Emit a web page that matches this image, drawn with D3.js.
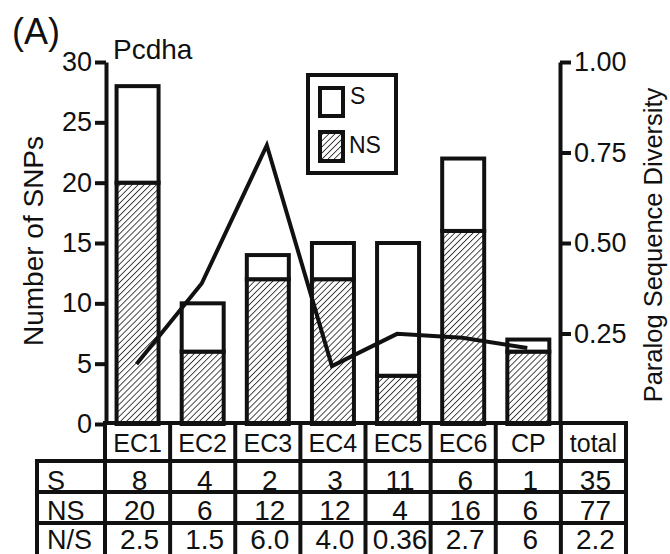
<!DOCTYPE html>
<html><head><meta charset="utf-8">
<script src="https://cdn.jsdelivr.net/npm/d3@7"></script>
<style>
html,body{margin:0;padding:0;background:#fff;}
svg{display:block;font-family:"Liberation Sans",Arial,sans-serif;}
</style></head>
<body>
<svg id="c" width="670" height="554"></svg>
<script>
const categories = ["EC1","EC2","EC3","EC4","EC5","EC6","CP"];
const sValues = [8,4,2,3,11,6,1];
const nsValues = [20,6,12,12,4,16,6];
const ratioLabels = ["2.5","1.5","6.0","4.0","0.36","2.7","6"];
const totalLabel = "total";
const totalS = 35, totalNS = 77, totalRatio = "2.2";
const diversity = [0.166,0.388,0.77,0.16,0.249,0.238,0.21];
const leftTicks = [0,5,10,15,20,25,30];
const rightTicks = [0.25,0.5,0.75,1.0];
const rowLabels = ["S","NS","N/S"];

const svg = d3.select("#c");
const ink = "#111";
const columns = categories.concat([totalLabel]);
const x = d3.scaleBand().domain(columns).range([105,626]).padding(0);
const y = d3.scaleLinear().domain([0,30]).range([424,62]);
const yR = d3.scaleLinear().domain([0,1]).range([424,62]);
const barW = 42;

// hatch pattern
const defs = svg.append("defs");
const pat = defs.append("pattern").attr("id","hatch").attr("patternUnits","userSpaceOnUse")
  .attr("width",4.3).attr("height",4.3).attr("patternTransform","rotate(45)");
pat.append("rect").attr("width",4.3).attr("height",4.3).attr("fill","#fff");
pat.append("line").attr("x1",0).attr("y1",0).attr("x2",0).attr("y2",4.3)
  .attr("stroke","#333").attr("stroke-width",1.8);

// bars
const bars = svg.append("g");
categories.forEach((c,i)=>{
  const cx = x(c) + x.bandwidth()/2;
  bars.append("rect").attr("x",cx-barW/2).attr("y",y(nsValues[i]))
    .attr("width",barW).attr("height",y(0)-y(nsValues[i]))
    .attr("fill","url(#hatch)").attr("stroke",ink).attr("stroke-width",4);
  bars.append("rect").attr("x",cx-barW/2).attr("y",y(nsValues[i]+sValues[i]))
    .attr("width",barW).attr("height",y(nsValues[i])-y(nsValues[i]+sValues[i]))
    .attr("fill","#fff").attr("stroke",ink).attr("stroke-width",4);
});

// line
const line = d3.line().x((d,i)=>x(categories[i])+x.bandwidth()/2 - 1).y(d=>yR(d));
svg.append("path").datum(diversity).attr("d",line).attr("fill","none")
  .attr("stroke",ink).attr("stroke-width",4).attr("stroke-linejoin","miter");

// axes
const axL = svg.append("g").attr("transform","translate(106,0)")
  .call(d3.axisLeft(y).tickValues(leftTicks).tickSize(11).tickSizeOuter(0).tickPadding(3));
const axR = svg.append("g").attr("transform","translate(560,0)")
  .call(d3.axisRight(yR).tickValues(rightTicks).tickFormat(d3.format(".2f")).tickSize(11).tickSizeOuter(0).tickPadding(3));
[axL,axR].forEach(a=>{
  a.selectAll("path,line").attr("stroke",ink).attr("stroke-width",4);
  a.selectAll("text").attr("fill",ink).style("font-size","27px").style("font-family","Liberation Sans, Arial, sans-serif");
});

// titles
svg.append("text").attr("transform","translate(43,241) rotate(-90)").attr("text-anchor","middle")
  .style("font-size","28px").attr("fill",ink).text("Number of SNPs");
svg.append("text").attr("transform","translate(662,245) rotate(-90)").attr("text-anchor","middle")
  .style("font-size","25.5px").attr("fill",ink).text("Paralog Sequence Diversity");
svg.append("text").attr("x",12).attr("y",44).style("font-size","36px").attr("fill",ink).text("(A)");
svg.append("text").attr("x",113).attr("y",59).style("font-size","28px").attr("fill",ink).text("Pcdha");

// legend
const lg = svg.append("g");
lg.append("rect").attr("x",308).attr("y",75).attr("width",88).attr("height",98)
  .attr("fill","#fff").attr("stroke",ink).attr("stroke-width",4);
lg.append("rect").attr("x",320).attr("y",88).attr("width",23).attr("height",28)
  .attr("fill","#fff").attr("stroke",ink).attr("stroke-width",4);
lg.append("rect").attr("x",320).attr("y",132).attr("width",23).attr("height",29)
  .attr("fill","url(#hatch)").attr("stroke",ink).attr("stroke-width",4);
lg.append("text").attr("x",350).attr("y",104).style("font-size","23px").attr("fill",ink).text("S");
lg.append("text").attr("x",349).attr("y",153).style("font-size","23px").attr("fill",ink).text("NS");

// table
const tb = svg.append("g");
const rowY = [423,461,492,523,557];
const left = 37, colL = 105, right = x.range()[1];
function hl(x1,x2,yy){tb.append("line").attr("x1",x1).attr("x2",x2).attr("y1",yy).attr("y2",yy).attr("stroke",ink).attr("stroke-width",4).attr("stroke-linecap","square");}
function vl(xx,y1,y2){tb.append("line").attr("x1",xx).attr("x2",xx).attr("y1",y1).attr("y2",y2).attr("stroke",ink).attr("stroke-width",4).attr("stroke-linecap","square");}
hl(colL,right,rowY[0]);
for(let r=1;r<rowY.length;r++) hl(left,right,rowY[r]);
vl(left,rowY[1],rowY[4]);
columns.forEach(c=>vl(x(c),rowY[0],rowY[4]));
vl(right,rowY[0],rowY[4]);

columns.forEach(c=>{
  tb.append("text").attr("x",x(c)+x.bandwidth()/2).attr("y",452).attr("text-anchor","middle")
    .style("font-size","25px").attr("fill",ink).text(c);
});
const rowsData = [sValues.concat([totalS]), nsValues.concat([totalNS]), ratioLabels.concat([totalRatio])];
const rowBase = [490,520,549];
rowLabels.forEach((lab,r)=>{
  tb.append("text").attr("x",47).attr("y",rowBase[r]).style("font-size","27px").attr("fill",ink).text(lab);
  columns.forEach((c,i)=>{
    tb.append("text").attr("x",x(c)+x.bandwidth()/2+2).attr("y",rowBase[r]).attr("text-anchor","middle")
      .style("font-size","28px").attr("fill",ink).text(rowsData[r][i]);
  });
});
</script>
</body></html>
